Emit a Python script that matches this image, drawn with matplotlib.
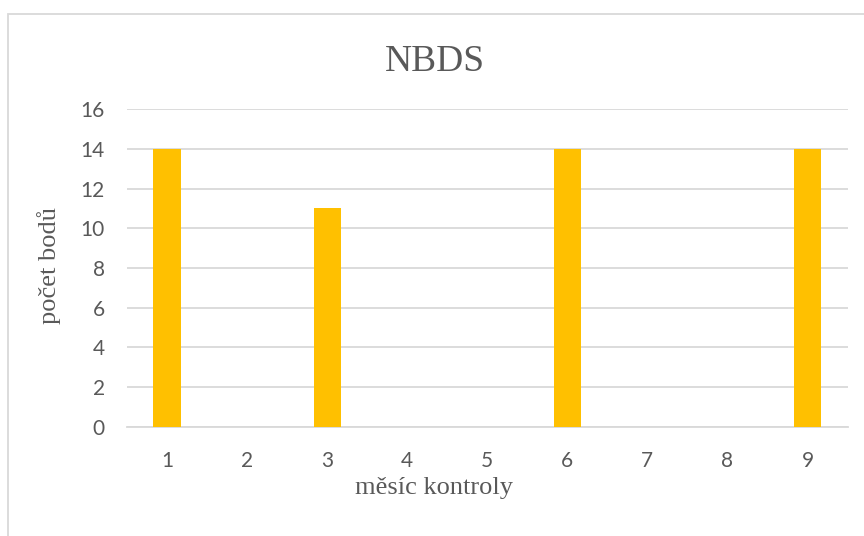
import matplotlib
matplotlib.use('Agg')
import matplotlib.pyplot as plt
from matplotlib.patches import Rectangle

months = ['1', '2', '3', '4', '5', '6', '7', '8', '9']
points = [14, 0, 11, 0, 0, 14, 0, 0, 14]
y_ticks = [0, 2, 4, 6, 8, 10, 12, 14, 16]

text_color = '#595959'
grid_color = '#D9D9D9'
bar_color = '#FFC000'

fig = plt.figure(figsize=(8.64, 5.36), dpi=100)
ax = fig.add_axes([0.147, 0.2034, 0.834, 0.5932])

# chart frame, runs off the right and bottom edge
fig.patches.append(Rectangle((8 / 864, -0.05), 1.0, 1 - 14 / 536 + 0.05,
                             transform=fig.transFigure, fill=False,
                             edgecolor=grid_color, linewidth=1.3))

x = range(len(months))
ax.bar(x, points, width=0.34, color=bar_color, zorder=3)

ax.set_xlim(-0.5, len(months) - 0.5)
ax.set_ylim(0, 16)
ax.set_xticks(list(x))
ax.set_xticklabels(months)
ax.set_yticks(y_ticks)
ax.yaxis.grid(True, color=grid_color, linewidth=1.3)
ax.set_axisbelow(True)
for s in ['top', 'right', 'left']:
    ax.spines[s].set_visible(False)
ax.spines['bottom'].set_color(grid_color)
ax.spines['bottom'].set_linewidth(1.3)
ax.tick_params(length=0, labelsize=15, labelcolor=text_color)
for lab in ax.get_xticklabels() + ax.get_yticklabels():
    lab.set_family('Lato')
ax.tick_params(axis='x', pad=17)
ax.tick_params(axis='y', pad=16)

# title and x label are centred on the chart frame, not the plot area
fig.text(435 / 864, 1 - 62 / 536, 'NBDS', fontsize=27, family='Liberation Serif',
         color=text_color, ha='center', va='center')
fig.text(434 / 864, 1 - 488 / 536, 'měsíc kontroly', fontsize=19, family='Liberation Serif',
         color=text_color, ha='center', va='center')
fig.text(49 / 864, 1 - 265 / 536, 'počet bodů', fontsize=19, family='Liberation Serif',
         color=text_color, ha='center', va='center', rotation=90)

fig.savefig('out.png', dpi=100)
